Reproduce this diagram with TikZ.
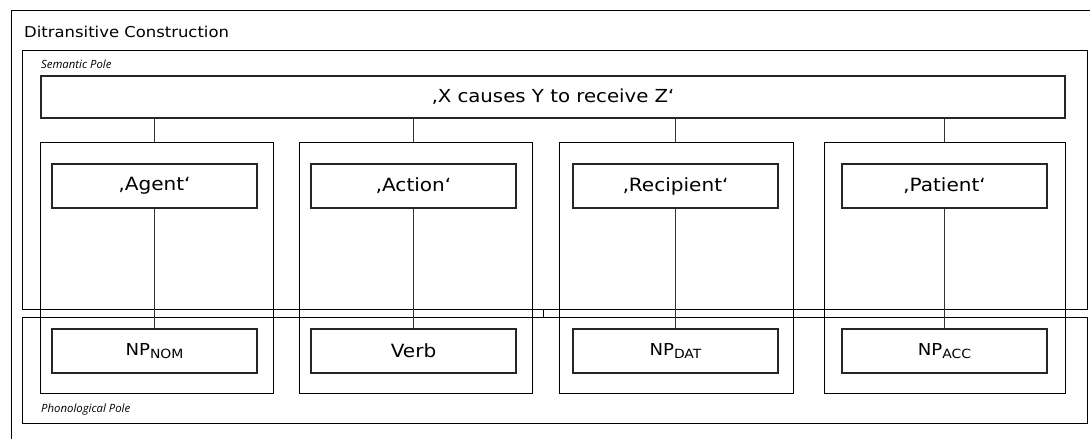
\documentclass[tikz,border=0pt]{standalone}
\usepackage{fontspec}
\setmainfont{DejaVu Sans}[FakeStretch=1.1]
\newfontfamily\polefont{Open Sans}
\begin{document}
\begin{tikzpicture}[x=1bp,y=-1bp,
  frame/.style={draw=black,line width=1bp},
  outerbox/.style={draw=black,line width=1bp,minimum height=#1,inner sep=0pt},
  tbox/.style={draw=black!85,line width=1.3bp,minimum width=205bp,minimum height=44bp,inner sep=0pt,font=\fontsize{18.3}{21}\selectfont},
  conn/.style={draw=black!80,line width=1bp},
  lbl/.style={anchor=west,inner sep=0pt},
  plbl/.style={anchor=west,inner sep=0pt,font=\polefont\itshape\fontsize{11.4}{13}\selectfont}]
\useasboundingbox (0,0) rectangle (1090,439);
% outer frame (right and bottom edges fall outside the picture)
\draw[frame] (11,439) -- (11,11) -- (1090,11);
\node[lbl,font=\fontsize{15}{18}\selectfont] (title) at (24,32) {Ditransitive Construction};
% poles
\node[outerbox=259bp,minimum width=1064bp] (sem) at (555,180.5) {};
\node[outerbox=105bp,minimum width=1064bp] (phon) at (555,370.5) {};
\node[plbl] (semlbl) at (41,64) {Semantic Pole};
\node[plbl] (phonlbl) at (41,410) {Phonological Pole};
% top meaning box
\node[draw=black!85,line width=1.3bp,minimum width=1024bp,minimum height=42bp,inner sep=0pt,font=\fontsize{18}{21}\selectfont] (top) at (553,97) {‚X causes Y to receive Z‘};
% columns
\node[outerbox=250bp,minimum width=232bp] (colA) at (157,268) {};
\node[outerbox=250bp,minimum width=233bp] (colB) at (415.5,268) {};
\node[outerbox=250bp,minimum width=234bp] (colC) at (676,268) {};
\node[outerbox=250bp,minimum width=241bp] (colD) at (944.5,268) {};
% semantic boxes
\node[tbox] (semA) at (154.5,186) {‚Agent‘};
\node[tbox] (semB) at (413.5,186) {‚Action‘};
\node[tbox] (semC) at (675.5,186) {‚Recipient‘};
\node[tbox] (semD) at (944.5,186) {‚Patient‘};
% phonological boxes
\node[tbox] (phA) at (154.5,351) {\fontsize{16.5}{19}\selectfont NP\raisebox{-0.35ex}{\fontsize{12.7}{14}\selectfont NOM}};
\node[tbox] (phB) at (413.5,351) {Verb};
\node[tbox] (phC) at (675.5,351) {\fontsize{16.5}{19}\selectfont NP\raisebox{-0.35ex}{\fontsize{12.7}{14}\selectfont DAT}};
\node[tbox] (phD) at (944.5,351) {\fontsize{16.5}{19}\selectfont NP\raisebox{-0.35ex}{\fontsize{12.7}{14}\selectfont ACC}};
% connectors
\foreach \s/\c in {semA/colA,semB/colB,semC/colC,semD/colD}{
  \draw[conn] (\s.north |- top.south) -- (\s.north |- \c.north);
}
\foreach \s/\p in {semA/phA,semB/phB,semC/phC,semD/phD}{
  \draw[conn] (\s.south) -- (\p.north);
}
\coordinate (tk) at (543.5,0);
\draw[frame] (sem.south -| tk) -- (phon.north -| tk);
\end{tikzpicture}
\end{document}
